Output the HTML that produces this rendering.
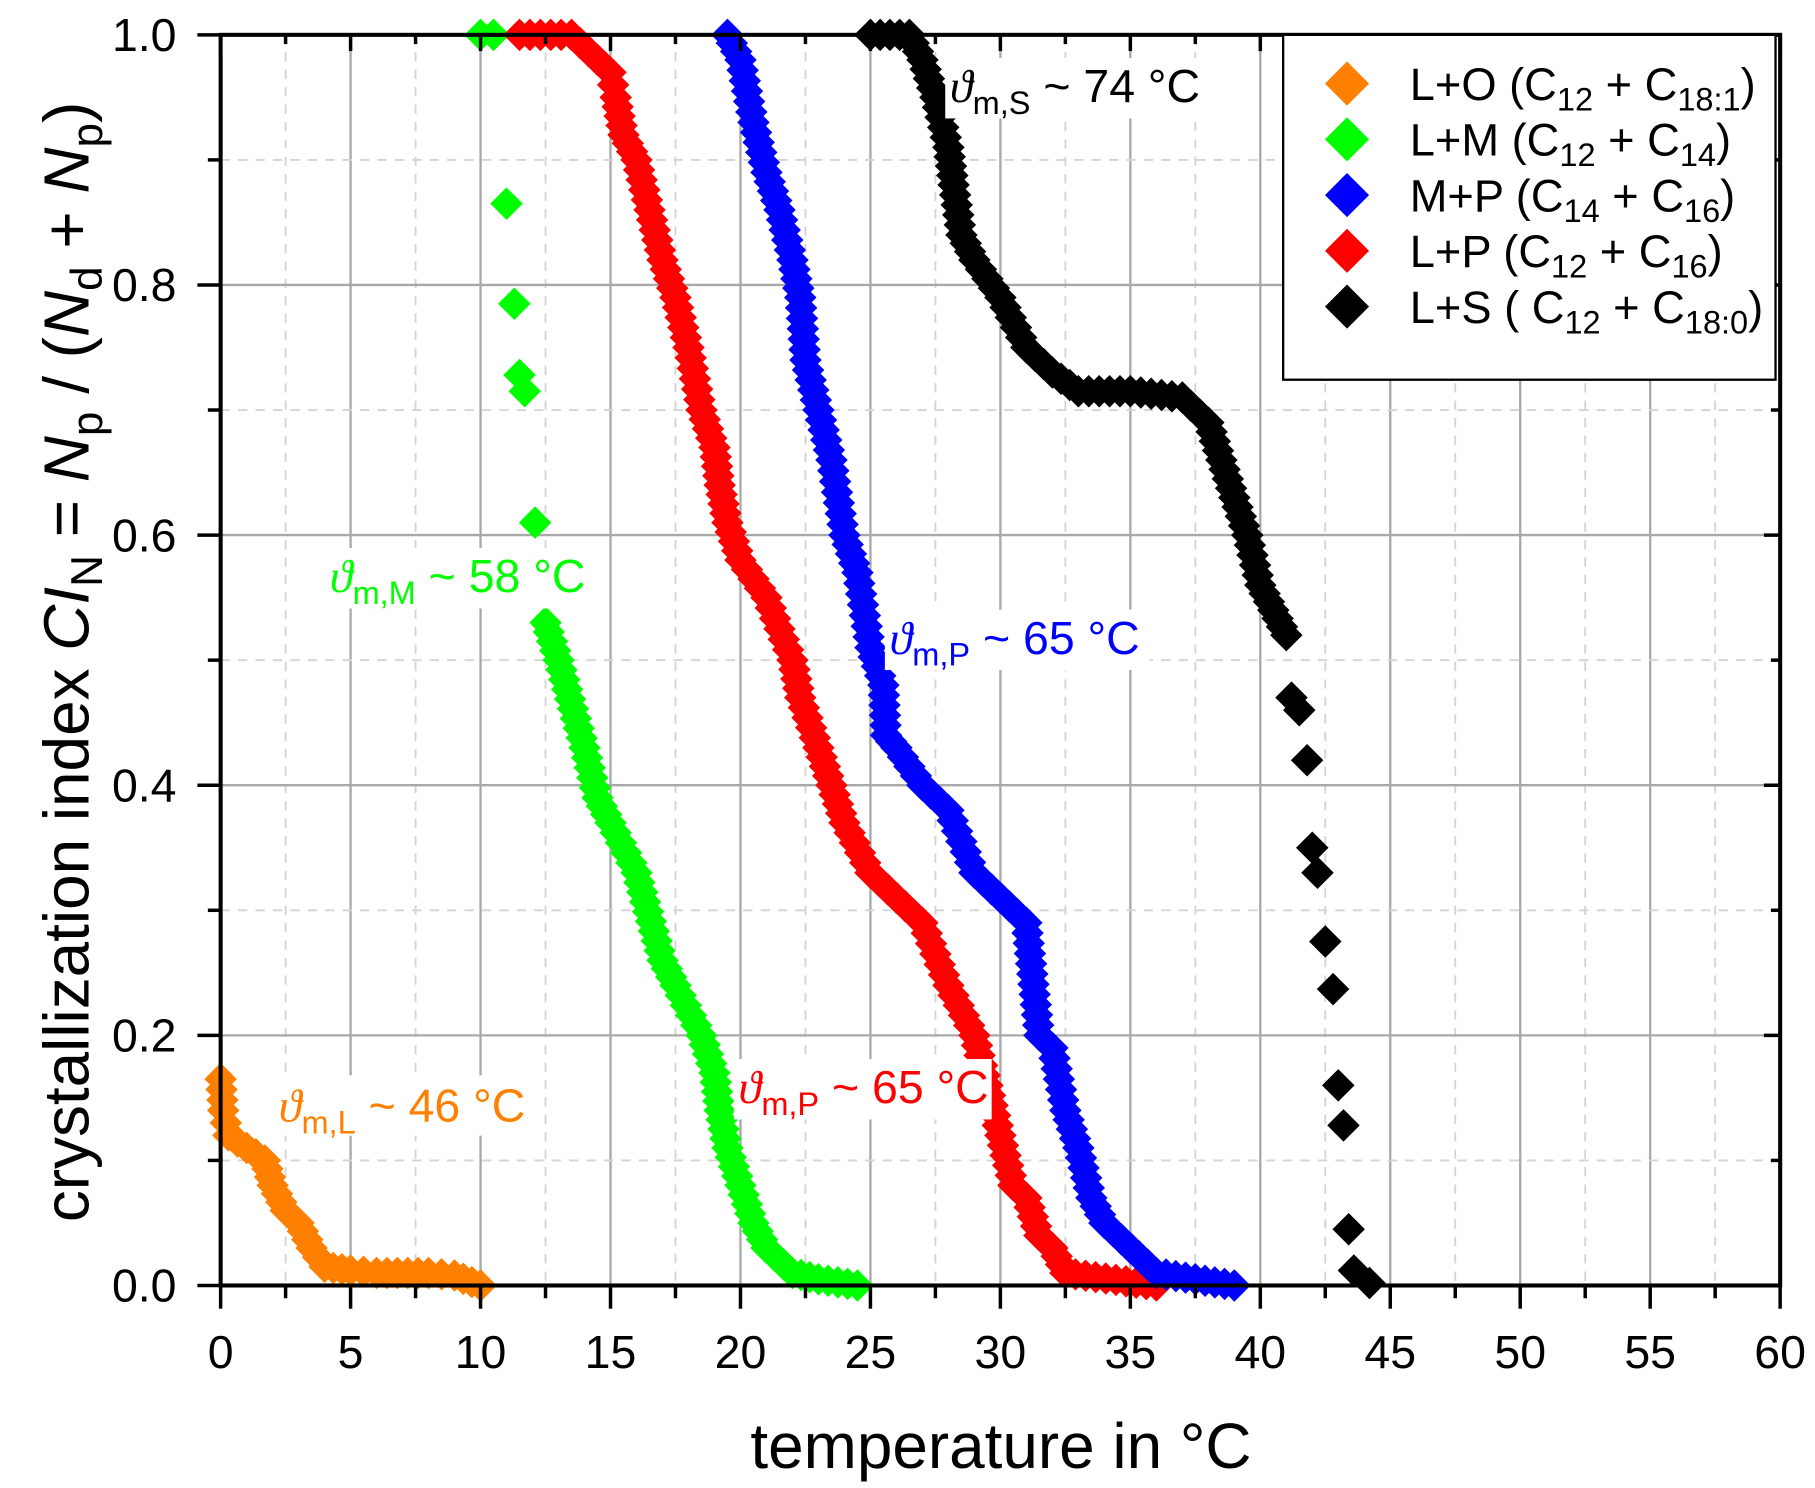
<!DOCTYPE html>
<html><head><meta charset="utf-8"><style>
html,body{margin:0;padding:0;background:#fff;}
svg{display:block;font-family:"Liberation Sans",Arial,sans-serif;}
</style></head><body>
<svg id="s" width="1815" height="1488" viewBox="0 0 1563 1281.4" xmlns="http://www.w3.org/2000/svg">
<rect width="1563" height="1282" fill="#fff"/>
<g id="grid"></g>
<g id="data"></g>
<g id="labels" font-size="40">
 <rect x="236" y="926" width="222" height="52" fill="#fff"/>
 <text x="240" y="966" fill="#ff8000"><tspan font-family="Liberation Serif" font-style="italic">ϑ</tspan><tspan font-size="28" dy="10">m,L</tspan><tspan dy="-10"> ~ 46 °C</tspan></text>
 <rect x="280" y="472" width="230" height="52" fill="#fff"/>
 <text x="284" y="510" fill="#00ff00"><tspan font-family="Liberation Serif" font-style="italic">ϑ</tspan><tspan font-size="28" dy="10">m,M</tspan><tspan dy="-10"> ~ 58 °C</tspan></text>
 <rect x="762" y="525" width="228" height="52" fill="#fff"/>
 <text x="766" y="563" fill="#0000ff"><tspan font-family="Liberation Serif" font-style="italic">ϑ</tspan><tspan font-size="28" dy="10">m,P</tspan><tspan dy="-10"> ~ 65 °C</tspan></text>
 <rect x="632" y="912" width="222" height="52" fill="#fff"/>
 <text x="636" y="950" fill="#ff0000"><tspan font-family="Liberation Serif" font-style="italic">ϑ</tspan><tspan font-size="28" dy="10">m,P</tspan><tspan dy="-10"> ~ 65 °C</tspan></text>
 <rect x="814" y="50" width="228" height="52" fill="#fff"/>
 <text x="818" y="88" fill="#000"><tspan font-family="Liberation Serif" font-style="italic">ϑ</tspan><tspan font-size="28" dy="10">m,S</tspan><tspan dy="-10"> ~ 74 °C</tspan></text>
</g>
<g id="frame"></g>
<g id="legend" font-size="39">
 <rect x="1105" y="30" width="424" height="297" fill="#fff" stroke="#000" stroke-width="2"/>
 <polygon points="1160,53 1179,72 1160,91 1141,72" fill="#ff8000"/>
 <polygon points="1160,101 1179,120 1160,139 1141,120" fill="#00ff00"/>
 <polygon points="1160,149 1179,168 1160,187 1141,168" fill="#0000ff"/>
 <polygon points="1160,197 1179,216 1160,235 1141,216" fill="#ff0000"/>
 <polygon points="1160,245 1179,264 1160,283 1141,264" fill="#000"/>
 <text x="1214" y="86">L+O (C<tspan font-size="28" dy="9">12</tspan><tspan dy="-9"> + C</tspan><tspan font-size="28" dy="9">18:1</tspan><tspan dy="-9">)</tspan></text>
 <text x="1214" y="134">L+M (C<tspan font-size="28" dy="9">12</tspan><tspan dy="-9"> + C</tspan><tspan font-size="28" dy="9">14</tspan><tspan dy="-9">)</tspan></text>
 <text x="1214" y="182">M+P (C<tspan font-size="28" dy="9">14</tspan><tspan dy="-9"> + C</tspan><tspan font-size="28" dy="9">16</tspan><tspan dy="-9">)</tspan></text>
 <text x="1214" y="230">L+P (C<tspan font-size="28" dy="9">12</tspan><tspan dy="-9"> + C</tspan><tspan font-size="28" dy="9">16</tspan><tspan dy="-9">)</tspan></text>
 <text x="1214" y="278">L+S ( C<tspan font-size="28" dy="9">12</tspan><tspan dy="-9"> + C</tspan><tspan font-size="28" dy="9">18:0</tspan><tspan dy="-9">)</tspan></text>
</g>
<text x="862" y="1264" font-size="55" text-anchor="middle">temperature in °C</text>
<text transform="translate(76,570) rotate(-90)" font-size="55" text-anchor="middle">crystallization index <tspan font-style="italic">CI</tspan><tspan font-size="38" dy="12">N</tspan><tspan dy="-12"> = </tspan><tspan font-style="italic">N</tspan><tspan font-size="38" dy="12">p</tspan><tspan dy="-12"> / (</tspan><tspan font-style="italic">N</tspan><tspan font-size="38" dy="12">d</tspan><tspan dy="-12"> + </tspan><tspan font-style="italic">N</tspan><tspan font-size="38" dy="12">p</tspan><tspan dy="-12">)</tspan></text>
</svg>
<script>
var NS="http://www.w3.org/2000/svg";
function X(t){return 190+t*22.383;}
function Y(v){return 1107-v*1077;}
function el(p,n,a,txt){var e=document.createElementNS(NS,n);for(var k in a)e.setAttribute(k,a[k]);if(txt!=null)e.textContent=txt;document.getElementById(p).appendChild(e);return e;}
for(var i=1;i<24;i++){var t=i*2.5;var maj=i%2==0;el("grid","line",{x1:X(t),x2:X(t),y1:30,y2:1107,stroke:maj?"#a8a8a8":"#d4d4d4","stroke-width":maj?2:1.6,"stroke-dasharray":maj?"":"8,7"});}
for(var i=1;i<10;i++){var v=i*0.1;var maj=i%2==0;el("grid","line",{y1:Y(v),y2:Y(v),x1:190,x2:1533,stroke:maj?"#a8a8a8":"#d4d4d4","stroke-width":maj?2:1.6,"stroke-dasharray":maj?"":"8,7"});}
function dia(x,y,c){var r=14;el("data","polygon",{points:(x)+","+(y-r)+" "+(x+r)+","+y+" "+x+","+(y+r)+" "+(x-r)+","+y,fill:c});}
function dense(pts,c,step){step=step||9;for(var i=0;i<pts.length-1;i++){var x0=X(pts[i][0]),y0=Y(pts[i][1]),x1=X(pts[i+1][0]),y1=Y(pts[i+1][1]);var d=Math.hypot(x1-x0,y1-y0);var n=Math.max(1,Math.round(d/step));for(var k=0;k<n;k++){dia(x0+(x1-x0)*k/n,y0+(y1-y0)*k/n,c);}}var l=pts[pts.length-1];dia(X(l[0]),Y(l[1]),c);}
function sparse(pts,c){pts.forEach(function(p){dia(X(p[0]),Y(p[1]),c);});}
var O="#ff8000",G="#00ff00",B="#0000ff",R="#ff0000",K="#000";
dense([[0,0.165],[0.1,0.14],[0.3,0.12],[1,0.11],[1.7,0.1],[2,0.08],[2.5,0.06],[3,0.05],[3.5,0.03],[4,0.015],[5,0.012],[6,0.01],[8,0.01],[9,0.008],[10,0]],O);
dense([[10,1],[10.5,1]],G);
sparse([[11,0.865],[11.3,0.785],[11.5,0.728],[11.7,0.715],[12.1,0.61],[12.3,0.56]],G);
dense([[12.5,0.53],[13,0.5],[14,0.43],[14.5,0.39],[15,0.37],[16,0.33],[17,0.26],[17.5,0.24],[18.5,0.2],[19,0.17],[19.2,0.14],[19.5,0.11],[20,0.08],[20.5,0.05],[21,0.03],[22,0.01],[23,0.005],[24.5,0]],G);
dense([[11.5,1],[13.5,1],[14.5,0.98],[15,0.97],[15.2,0.95],[15.5,0.92],[16,0.9],[16.5,0.86],[17,0.82],[17.5,0.79],[18,0.75],[18.5,0.7],[19,0.67],[19.2,0.64],[19.5,0.61],[20,0.58],[21,0.55],[22,0.5],[22.3,0.47],[23,0.43],[23.5,0.4],[24,0.37],[25,0.33],[26,0.31],[27,0.29],[28,0.24],[29,0.2],[29.5,0.16],[30,0.12],[30.5,0.08],[31,0.07],[31.5,0.04],[32,0.03],[32.5,0.01],[36,0]],R);
dense([[19.5,1],[20,0.98],[20.5,0.93],[21,0.89],[21.5,0.86],[22,0.82],[22.3,0.79],[22.5,0.74],[23,0.7],[23.5,0.66],[24,0.6],[24.5,0.57],[25,0.51],[25.5,0.48],[25.6,0.44],[26,0.43],[27,0.4],[28,0.38],[29,0.33],[30,0.31],[31,0.29],[31.5,0.2],[32,0.19],[32.5,0.14],[33,0.11],[33.5,0.07],[34,0.05],[35,0.03],[36,0.01],[39,0]],B);
dense([[25,1],[26.5,1],[27,0.98],[27.5,0.95],[28,0.91],[28.2,0.88],[28.5,0.84],[29,0.82],[30,0.79],[31,0.75],[32,0.73],[33,0.715],[35,0.715],[37,0.71],[38,0.69],[38.5,0.66],[39,0.63],[39.5,0.6],[40,0.56],[40.5,0.54],[41,0.52]],K);
sparse([[41.2,0.47],[41.5,0.46],[41.8,0.42],[42,0.35],[42.2,0.33],[42.5,0.275],[42.8,0.237],[43,0.16],[43.2,0.128],[43.4,0.045],[43.6,0.012],[44.2,0.002]],K);
el("frame","rect",{x:190,y:30,width:1343,height:1077,fill:"none",stroke:"#000","stroke-width":3.5});
for(var i=0;i<=24;i++){var t=i*2.5,maj=i%2==0,x=X(t);el("frame","line",{x1:x,x2:x,y1:1107,y2:1107+(maj?20:11),stroke:"#000","stroke-width":3});el("frame","line",{x1:x,x2:x,y1:30,y2:30+(maj?14:8),stroke:"#000","stroke-width":3});if(maj)el("frame","text",{x:x,y:1178,"font-size":40,"text-anchor":"middle"},String(t));}
for(var i=0;i<=10;i++){var v=i*0.1,maj=i%2==0,y=Y(v);el("frame","line",{x1:190,x2:190-(maj?20:11),y1:y,y2:y,stroke:"#000","stroke-width":3});el("frame","line",{x1:1533,x2:1533-(maj?14:8),y1:y,y2:y,stroke:"#000","stroke-width":3});if(maj)el("frame","text",{x:152,y:y+14,"font-size":40,"text-anchor":"end"},v.toFixed(1));}
</script>
</body></html>
